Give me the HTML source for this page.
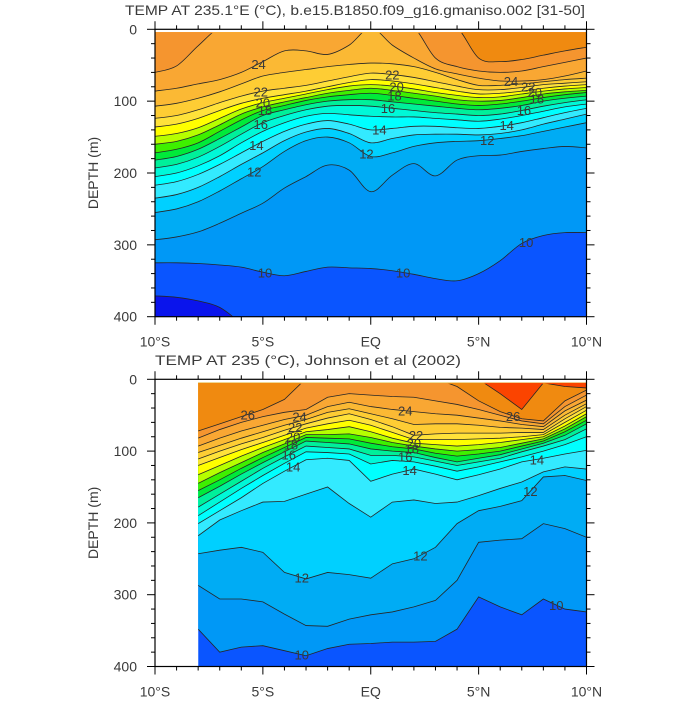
<!DOCTYPE html>
<html><head><meta charset="utf-8"><title>Temperature sections</title>
<style>
html,body{margin:0;padding:0;background:#fff;}
svg text{font-family:"Liberation Sans",sans-serif;fill:#3a3a3a;}
</style></head>
<body>
<svg id="chart" width="700" height="700" viewBox="0 0 700 700" xmlns="http://www.w3.org/2000/svg">
<text x="125" y="15" font-size="14" textLength="460" lengthAdjust="spacingAndGlyphs">TEMP AT 235.1°E (°C), b.e15.B1850.f09_g16.gmaniso.002 [31-50]</text>
<text x="155" y="365" font-size="14" textLength="306" lengthAdjust="spacingAndGlyphs">TEMP AT 235 (°C), Johnson et al (2002)</text>
<g id="topPanel"></g>
<g id="botPanel"></g>
</svg>
<script>
// ---------- data: latitudes ----------
const latTop = [-10,-9,-8,-7,-6,-5,-4,-3,-2,-1,0,1,2,3,4,5,6,7,8,9,10];
const latBot = [-8,-7,-6,-5,-4,-3,-2,-1,0,1,2,3,4,5,6,7,8,9,10];
// ---------- data: isotherm depths (m), top panel (model) ----------
const topT9  = [371,373,378,387,410,440,440,440,440,440,440,440,440,440,440,440,440,440,440,440,440];
const topT10 = [325,325,326,328,331,338,343,337,331,332,333,336,341,347,350,340,322,298,287,283,283];
const topT11 = [293,289,282,270,256,242,221,205,189,196,226,203,187,204,182,176,175,170,166,163,165];
const topT12 = [255,250,240,225,208,191,170,155,150,158,177,172,163,158,156,155,152,148,142,136,130];
const topT13 = [235,230,220,205,188,172,155,143,138,145,158,152,147,146,146,147,145,140,132,125,118];
const topT14 = [217,212,202,188,172,156,142,132,127,132,140,138,135,135,137,138,135,130,123,116,110];
const topT15 = [205,200,190,176,158,142,130,121,117,119,121,122,122,124,126,128,125,120,114,108,104];
const topT16 = [193,188,178,163,146,130,120,112,107,106,107,110,113,116,118,120,118,113,107,102,98];
const topT17 = [182,177,167,152,136,120,112,105,100,98,98,101,104,107,110,112,110,106,100,96,93];
const topT18 = [172,167,158,142,126,113,106,99,94,91,89,92,96,100,104,106,104,100,95,91,88];
const topT19 = [160,156,147,133,118,108,101,95,89,85,82,85,89,93,98,100,99,95,90,87,85];
const topT20 = [149,145,137,124,111,102,96,90,84,79,77,79,83,88,92,95,94,90,86,83,81];
const topT21 = [136,132,124,113,103,96,91,86,80,74,70,72,76,81,86,90,89,86,82,79,77];
const topT22 = [124,120,112,102,93,86,82,78,72,66,61,63,67,73,79,84,84,81,77,75,73];
const topT23 = [107,103,96,87,76,65,60,56,52,49,47,48,52,60,70,78,78,76,73,70,68];
const topT24 = [86,82,76,70,60,45,30,30,35,22,-5,22,40,55,62,68,72,72,70,65,58];
const topT25 = [60,51,23,-20,-20,-20,-20,-20,-20,-20,-20,-20,-20,40,52,58,60,58,52,46,40];
const topT26 = [-20,-20,-20,-20,-20,-20,-20,-20,-20,-20,-20,-20,-20,-20,-3,40,45,42,36,30,25];
const topLevels = [9,10,11,12,13,14,15,16,17,18,19,20,21,22,23,24,25,26];
// ---------- data: isotherm depths (m), bottom panel (observations) ----------
const botT10 = [348,380,373,371,378,385,375,369,368,366,366,365,348,303,317,328,306,320,324];
const botT11 = [287,306,306,310,327,343,344,334,328,324,317,308,280,227,224,222,201,208,220];
const botT12 = [243,238,234,241,269,278,269,272,277,257,250,234,201,183,177,169,136,134,141];
const botT13 = [218,196,183,171,170,160,150,173,192,171,168,173,171,162,152,143,129,122,125];
const botT14 = [201,183,165,145,128,112,110,113,142,132,125,132,140,133,125,115,110,104,99];
const botT15 = [190,171,152,134,117,101,102,104,118,113,115,121,128,122,115,108,100,91,80];
const botT16 = [178,160,142,124,108,93,95,97,106,106,108,114,120,115,110,101,93,84,69];
const botT17 = [165,149,132,116,101,86,88,90,97,100,102,109,115,110,105,97,89,78,62];
const botT18 = [155,140,124,109,95,81,82,83,89,94,97,103,107,104,100,93,86,73,57];
const botT19 = [145,130,116,102,90,77,77,76,81,88,93,97,100,98,95,89,83,69,52];
const botT20 = [133,120,107,95,84,73,70,66,73,82,89,91,93,91,88,84,80,65,48];
const botT21 = [120,109,98,88,78,68,62,57,64,74,84,84,84,83,82,80,77,60,43];
const botT22 = [111,100,90,81,71,62,54,48,56,66,78,76,75,75,75,74,74,55,38];
const botT23 = [102,92,82,73,64,56,46,41,48,55,63,62,62,64,67,68,70,50,34];
const botT24 = [93,82,72,64,56,50,38,32,38,42,45,48,50,54,58,63,66,44,29];
const botT25 = [82,70,60,52,46,42,25,20,22,24,25,30,35,42,50,58,62,38,22];
const botT26 = [72,62,52,42,28,-10,-10,-10,-10,-10,-10,-10,10,30,45,55,58,30,15];
const botT27 = [-10,-10,-10,-10,-10,-10,-10,-10,-10,-10,-10,-10,-10,0,20,42,5,10,12];
const botLevels = [10,11,12,13,14,15,16,17,18,19,20,21,22,23,24,25,26,27];
// ---------- contour label positions (lat, level) ----------
const topLabelLats = [-5.2,-5.1,-5.0,-4.9,-5.1,-5.3,-5.4,-4.9,1.0,1.2,1.1,0.8,0.4,-0.2,1.5,6.5,7.3,7.6,7.7,7.1,6.3,5.4,7.2];
const topLabelVals = [24,22,20,18,16,14,12,10,22,20,18,16,14,12,10,24,22,20,18,16,14,12,10];
const botLabelLats = [-5.7,-3.3,-3.5,-3.6,-3.7,-3.8,-3.6,-3.2,-3.2,1.6,2.1,2.0,1.9,1.6,1.8,2.3,6.6,7.7,7.4,8.6];
const botLabelVals = [26,24,22,20,18,16,14,12,10,24,22,20,18,16,14,12,26,14,12,10];
// ---------- axis ticks ----------
const yTickVals = [0,100,200,300,400];
const xTickVals = [-10,-5,0,5,10];
const xTickLabels = ['10°S','5°S','EQ','5°N','10°N'];

const bandColor = {8:'#0a14ec',9:'#0a55ff',10:'#0098f6',11:'#00acf4',12:'#00d0ff',13:'#33eaff',14:'#00ffff',
  15:'#00f8d8',16:'#00f09a',17:'#00ea3a',18:'#3ef000',19:'#b6ff00',20:'#ffff00',21:'#ffe23a',
  22:'#fecd34',23:'#fbb934',24:'#f9a733',25:'#f5952f',26:'#f08a10',27:'#fb4400'};

const NS='http://www.w3.org/2000/svg';
function mk(tag, attrs, parent){const e=document.createElementNS(NS,tag);for(const k in attrs)e.setAttribute(k,attrs[k]);parent.appendChild(e);return e;}
function interp(lats, arr, lat){for(let i=0;i<lats.length-1;i++){if(lat>=lats[i]&&lat<=lats[i+1]){const f=(lat-lats[i])/(lats[i+1]-lats[i]);return arr[i]+f*(arr[i+1]-arr[i]);}}return arr[arr.length-1];}
function pathFrom(pts, smooth){
  let d='M'+pts[0][0].toFixed(2)+','+pts[0][1].toFixed(2);
  const n=pts.length;
  for(let i=0;i<n-1;i++){
    const p0=pts[Math.max(i-1,0)],p1=pts[i],p2=pts[i+1],p3=pts[Math.min(i+2,n-1)];
    if(smooth){
      const c1=[p1[0]+(p2[0]-p0[0])/6,p1[1]+(p2[1]-p0[1])/6];
      const c2=[p2[0]-(p3[0]-p1[0])/6,p2[1]-(p3[1]-p1[1])/6];
      d+=' C'+c1[0].toFixed(2)+','+c1[1].toFixed(2)+' '+c2[0].toFixed(2)+','+c2[1].toFixed(2)+' '+p2[0].toFixed(2)+','+p2[1].toFixed(2);
    } else d+=' L'+p2[0].toFixed(2)+','+p2[1].toFixed(2);
  }
  return d;
}

function drawPanel(g, cfg){
  const x0=155, x1=586.5, y0=cfg.y0, y1=cfg.y1;
  const xS = lat => x0 + (lat+10)/20*(x1-x0);
  const yS = dep => y0 + dep/400*(y1-y0);
  const id=cfg.id;
  const defs=mk('defs',{},g);
  const cp=mk('clipPath',{id:id+'-clip'},defs);
  const dx0=xS(cfg.lats[0]), dyTop=yS(cfg.dTop);
  mk('rect',{x:dx0,y:dyTop,width:x1-dx0,height:y1-dyTop},cp);
  const cp2=mk('clipPath',{id:id+'-clip2'},defs);
  mk('rect',{x:dx0,y:dyTop+1,width:x1-dx0,height:y1-dyTop-1},cp2);

  const fills=mk('g',{'clip-path':'url(#'+id+'-clip)'},g);
  
  
  const base=mk('rect',{x:dx0,y:dyTop,width:x1-dx0,height:y1-dyTop,fill:bandColor[cfg.levels[0]-1]},fills);
  
  
  const linePaths=[];
  cfg.lines.forEach((arr,k)=>{
    const lev=cfg.levels[k];
    const pts=cfg.lats.map((la,i)=>[xS(la), yS(Math.max(arr[i],cfg.dTop-6))]);
    const lp=pathFrom(pts,cfg.smooth);
    linePaths.push(lp);
    const d=lp+' L'+x1+','+(dyTop-10)+' L'+dx0+','+(dyTop-10)+' Z';
    const p=mk('path',{d:d,fill:bandColor[lev],stroke:'none'},fills);
    
    
  });
  const strokes=mk('g',{'clip-path':'url(#'+id+'-clip2)',fill:'none',stroke:'#262626','stroke-width':'0.8'},g);
  
  
  linePaths.forEach((lp,k)=>{
    const p=mk('path',{d:lp},strokes);
    
    
  });
  cfg.labLats.forEach((la,i)=>{
    const v=cfg.labVals[i];
    const k=cfg.levels.indexOf(v);
    if(k<0) return;
    const dep=interp(cfg.lats,cfg.lines[k],la);
    const t=mk('text',{x:xS(la),y:yS(dep)+5,'font-size':'13','text-anchor':'middle'},g);
    t.textContent=String(v);
    
    
  });
  const fr=mk('rect',{x:x0,y:y0,width:x1-x0,height:y1-y0,fill:'none',stroke:'#000','stroke-width':'1.2'},g);
  
  
  const tk=mk('g',{stroke:'#000','stroke-width':'1'},g);
  
  
  for(let la=-10;la<=10;la++){
    const L=(la%5===0)?8:4, xx=xS(la);
    mk('line',{x1:xx,y1:y0,x2:xx,y2:y0-L},tk);
    mk('line',{x1:xx,y1:y1,x2:xx,y2:y1+L},tk);
  }
  for(let dp=0;dp<=400;dp+=20){
    const L=(dp%100===0)?8:4, yy=yS(dp);
    mk('line',{x1:x0,y1:yy,x2:x0-L,y2:yy},tk);
    mk('line',{x1:x1,y1:yy,x2:x1+L,y2:yy},tk);
  }
  yTickVals.forEach(v=>{
    const t=mk('text',{x:137,y:yS(v)+5,'font-size':'14','text-anchor':'end'},g);
    t.textContent=String(v);
    
    
  });
  xTickVals.forEach((v,i)=>{
    const t=mk('text',{x:xS(v),y:y1+30,'font-size':'14','text-anchor':'middle'},g);
    t.textContent=xTickLabels[i];
    
    
  });
  const yc=(y0+y1)/2;
  const yt=mk('text',{x:0,y:0,'font-size':'14','text-anchor':'middle',transform:'translate(98,'+yc+') rotate(-90)'},g);
  yt.textContent='DEPTH (m)';
  
  
}

drawPanel(document.getElementById('topPanel'),{
  id:'model', y0:29.3, y1:316.7, dTop:4, smooth:true, lats:latTop,
  lines:[topT9,topT10,topT11,topT12,topT13,topT14,topT15,topT16,topT17,topT18,topT19,topT20,topT21,topT22,topT23,topT24,topT25,topT26],
  levels:topLevels, labLats:topLabelLats, labVals:topLabelVals
});
drawPanel(document.getElementById('botPanel'),{
  id:'obs', y0:379.3, y1:666.5, dTop:5, smooth:false, lats:latBot,
  lines:[botT10,botT11,botT12,botT13,botT14,botT15,botT16,botT17,botT18,botT19,botT20,botT21,botT22,botT23,botT24,botT25,botT26,botT27],
  levels:botLevels, labLats:botLabelLats, labVals:botLabelVals
});
</script>
</body></html>
